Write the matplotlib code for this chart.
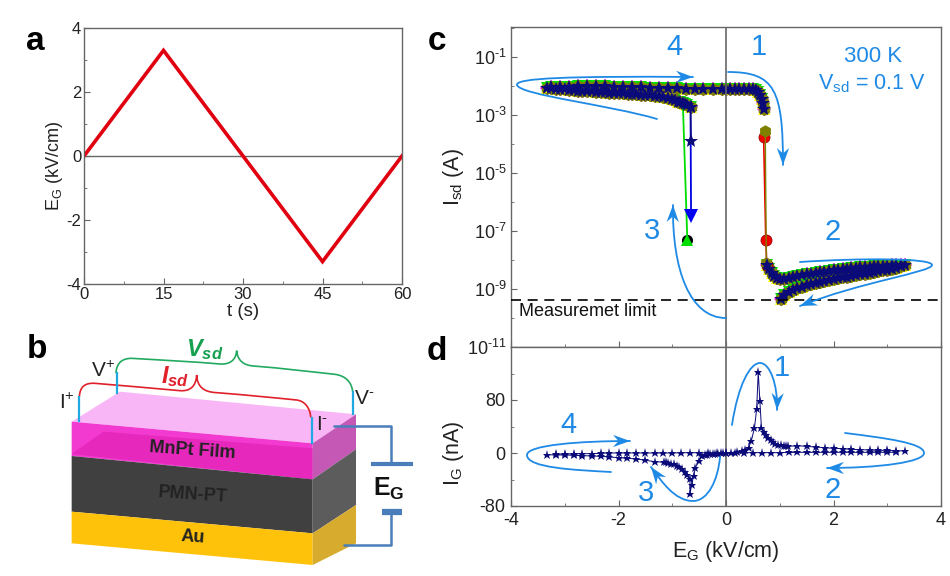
"""Four-panel figure: E_G waveform, device sketch, I_sd and I_G loops."""

import matplotlib
matplotlib.use("Agg")
import matplotlib.pyplot as plt
from matplotlib.patches import PathPatch, Polygon
from matplotlib.path import Path
import numpy as np

plt.rcParams["font.family"] = ["Liberation Sans", "DejaVu Sans"]
plt.rcParams["mathtext.fontset"] = "custom"
plt.rcParams["mathtext.rm"] = "Liberation Sans"
plt.rcParams["mathtext.it"] = "Liberation Sans:italic"
plt.rcParams["mathtext.bf"] = "Liberation Sans:bold"
plt.rcParams["mathtext.bfit"] = "Liberation Sans:italic:bold"
plt.rcParams["mathtext.default"] = "regular"
plt.rcParams["axes.unicode_minus"] = False

W, H = 950, 576
BLUE = "#1e8ae6"
FRAME = "#666666"
NAVY = "#0a0a78"
INK = "#222222"

# panel a
t_s = [0, 15, 30, 45, 60]
eg_wave = [0, 3.3, 0, -3.3, 0]

# panel c, log10(I_sd) by sweep branch
c_up_x = [0, 0.08, 0.17, 0.25, 0.33, 0.42, 0.5, 0.55, 0.6, 0.64, 0.67, 0.69, 0.7]
c_up_y = [-2.09, -2.09, -2.09, -2.09, -2.09, -2.09, -2.1, -2.14, -2.2, -2.3, -2.45, -2.6, -2.78]
c_off_x = [0.76, 0.8, 0.85, 0.9, 0.95, 1.0, 1.08, 1.17, 1.25, 1.33, 1.42, 1.5, 1.58, 1.67, 1.75, 1.83,
           1.92, 2.0, 2.08, 2.17, 2.25, 2.33, 2.42, 2.5, 2.58, 2.67, 2.75, 2.83, 2.92, 3.0, 3.08, 3.17, 3.25, 3.33]
c_off_y = [-8.18, -8.3, -8.45, -8.55, -8.62, -8.65, -8.66, -8.62, -8.58, -8.55, -8.52, -8.5, -8.47, -8.45,
           -8.42, -8.4, -8.37, -8.35, -8.33, -8.32, -8.3, -8.28, -8.27, -8.25, -8.24, -8.23, -8.22, -8.21,
           -8.2, -8.2, -8.19, -8.19, -8.18, -8.18]
c_back_x = [3.25, 3.17, 3.08, 3.0, 2.92, 2.83, 2.75, 2.67, 2.58, 2.5, 2.42, 2.33, 2.25, 2.17, 2.08, 2.0,
            1.92, 1.83, 1.75, 1.67, 1.58, 1.5, 1.42, 1.33, 1.25, 1.17, 1.08, 1.02]
c_back_y = [-8.22, -8.27, -8.3, -8.33, -8.36, -8.39, -8.42, -8.45, -8.48, -8.5, -8.53, -8.56, -8.58, -8.6,
            -8.62, -8.64, -8.68, -8.72, -8.76, -8.8, -8.84, -8.87, -8.92, -8.97, -9.03, -9.1, -9.2, -9.33]
c_neg_x = [-0.66, -0.72, -0.76, -0.8, -0.85, -0.9, -0.95, -1.0, -1.08, -1.17, -1.25, -1.33, -1.42, -1.5,
           -1.58, -1.67, -1.75, -1.83, -1.92, -2.0, -2.08, -2.17, -2.25, -2.33, -2.42, -2.5, -2.58, -2.67,
           -2.75, -2.83, -2.92, -3.0, -3.08, -3.17, -3.25, -3.33]
c_neg_y = [-2.72, -2.66, -2.62, -2.6, -2.57, -2.54, -2.5, -2.46, -2.42, -2.38, -2.36, -2.34, -2.32, -2.31,
           -2.3, -2.29, -2.28, -2.27, -2.26, -2.25, -2.24, -2.23, -2.22, -2.21, -2.2, -2.19, -2.18, -2.17,
           -2.16, -2.15, -2.13, -2.12, -2.11, -2.09, -2.08, -2.07]
c_ret_x = [-3.25, -3.08, -2.92, -2.75, -2.58, -2.42, -2.25, -2.08, -1.92, -1.75, -1.58, -1.42, -1.25,
           -1.08, -0.92, -0.75, -0.58, -0.42, -0.25, -0.08]
c_ret_y = [-2.05, -2.04, -2.03, -2.02, -2.02, -2.02, -2.02, -2.03, -2.03, -2.04, -2.05, -2.06, -2.07,
           -2.08, -2.08, -2.09, -2.09, -2.09, -2.09, -2.09]

# end points of the separate runs at the two switching steps
red_x = [0.7, 0.74, 0.76]
red_y = [-3.76, -7.3, -8.18]
olive_x = [0.73, 0.75]
olive_y = [-3.56, -8.1]
star_x = [-0.66, -0.65]
star_y = [-2.72, -3.9]
blue_x = [-0.66, -0.65]
blue_y = [-2.72, -6.5]
green_x = [-0.8, -0.72]
green_y = [-2.75, -7.3]
limit_log = -9.39

# panel d
d_up_x = [0, 0.1, 0.2, 0.3, 0.35, 0.42, 0.47, 0.53, 0.57, 0.6, 0.63, 0.66, 0.7, 0.74, 0.78, 0.83, 0.87,
          0.92, 0.97, 1.02, 1.07, 1.12, 1.15, 1.33, 1.5, 1.67, 1.84, 2.0, 2.17, 2.33, 2.5, 2.67, 2.83, 3.0,
          3.17, 3.33]
d_up_y = [0.5, 0.6, 1, 3, 5, 8, 18, 38, 66, 122, 79, 37, 32, 27, 23, 19, 16, 14, 12, 12, 11, 11, 10, 11,
          10, 9, 8, 7, 6.5, 5.5, 5, 4.5, 4, 4, 3.5, 3]
d_back_x = [3.17, 3.0, 2.83, 2.67, 2.5, 2.33, 2.17, 2.0, 1.84, 1.67, 1.5, 1.33, 1.17, 1.0, 0.84, 0.67,
            0.5, 0.33, 0.17]
d_back_y = [1, 1, 1, 1, 1, 1, 1, 1, 1, 1, 1, 1, 0.8, 0.5, 0.5, 0.5, 0.5, 0.5, 0.5]
d_neg_x = [-0.05, -0.1, -0.15, -0.2, -0.25, -0.3, -0.35, -0.4, -0.45, -0.5, -0.57, -0.6, -0.64, -0.67,
           -0.67, -0.72, -0.77, -0.82, -0.87, -0.92, -0.97, -1.02, -1.07, -1.12, -1.15, -1.33, -1.5, -1.67,
           -1.84, -2.0, -2.17, -2.33, -2.5, -2.67, -2.83, -3.0, -3.17, -3.33]
d_neg_y = [0, -0.5, -1, -1, -1.5, -2, -2.5, -3, -4, -12, -22, -34, -48, -62, -39, -33, -28, -24, -21, -19,
           -17, -16, -15, -14, -14, -13, -11, -9, -8, -7, -6, -5, -4.5, -4, -3.5, -3, -3, -2.5]
d_ret_x = [-3.17, -3.0, -2.83, -2.67, -2.5, -2.33, -2.17, -2.0, -1.84, -1.67, -1.5, -1.33, -1.17, -1.0,
           -0.84, -0.67, -0.5, -0.33, -0.17, 0]
d_ret_y = [-1.5, -1.5, -1, -1, -1, -0.5, 0, 0, 0, 0, 0, 0, 0, 0, 0.3, 0.5, 0.3, 0.3, 0.3, 0.5]

fig = plt.figure(figsize=(W / 100, H / 100), dpi=100)


def px_axes(left, top, right, bottom):
    ax = fig.add_axes([left / W, 1 - bottom / H, (right - left) / W, (bottom - top) / H])
    for sp in ax.spines.values():
        sp.set_color(FRAME)
        sp.set_linewidth(1.0)
    return ax


# ---- panel a
ax_a = px_axes(84, 28, 402, 284)
ax_a.axhline(0, color=FRAME, lw=1.0)
ax_a.plot(t_s, eg_wave, color="#e0000f", lw=2.6, solid_joinstyle="miter")
ax_a.set_xlim(0, 60)
ax_a.set_ylim(-4, 4)
ax_a.set_xticks([0, 15, 30, 45, 60])
ax_a.set_xticks([7.5, 22.5, 37.5, 52.5], minor=True)
ax_a.set_yticks([-4, -2, 0, 2, 4])
ax_a.set_yticks([-3, -1, 1, 3], minor=True)
ax_a.tick_params(which="major", direction="in", length=4, labelsize=12, pad=2, color=FRAME, labelcolor=INK)
ax_a.tick_params(which="minor", direction="in", length=2, color=FRAME)
ax_a.set_xlabel("t (s)", fontsize=13.5, color=INK)
ax_a.xaxis.set_label_coords(0.5, -0.075)
ax_a.set_ylabel("E$_{G}$ (kV/cm)", fontsize=13, color=INK)
ax_a.yaxis.set_label_coords(-0.06, 0.46)

# ---- panel c
ax_c = px_axes(511, 27, 941, 347)
ax_c.axvline(0, color=FRAME, lw=1.2, zorder=5)
ax_c.axhline(10.0 ** limit_log, color="black", lw=1.2, dashes=(6, 4), zorder=6)
branches = [(c_up_x, c_up_y), (c_off_x, c_off_y), (c_back_x, c_back_y), (c_neg_x, c_neg_y), (c_ret_x, c_ret_y)]
under_styles = [("D", "#ff00ff", 7), ("^", "#ffff00", 9), ("v", "#00e000", 8.5), ("h", "#808000", 9.5)]
for bx, by in branches:
    for mk, col, ms in under_styles:
        ax_c.plot(bx, 10.0 ** np.array(by), ls="none", marker=mk, color=col, ms=ms, mew=0, zorder=2)
ax_c.plot(red_x, 10.0 ** np.array(red_y), color="#f00000", lw=1.2, marker="o", ms=8, mec="#900000", mew=0.5, zorder=3)
ax_c.plot(olive_x, 10.0 ** np.array(olive_y), color="#808000", lw=1.0, marker="h", ms=9, mew=0, zorder=3)
ax_c.plot(green_x[1:], 10.0 ** np.array(green_y[1:]), ls="none", marker="o", color="black", ms=8, mew=0, zorder=3)
ax_c.plot(green_x, 10.0 ** np.array(green_y), color="#00dd00", lw=1.3, zorder=3)
ax_c.plot(green_x[1:], 10.0 ** np.array(green_y[1:]), ls="none", marker="^", color="#00dd00", ms=9, mew=0, zorder=4)
ax_c.plot(blue_x, 10.0 ** np.array(blue_y), color="#0000e0", lw=1.3, zorder=3)
ax_c.plot(blue_x[1:], 10.0 ** np.array(blue_y[1:]), ls="none", marker="v", color="#0000f0", ms=10, mew=0, zorder=4)
ax_c.plot(star_x, 10.0 ** np.array(star_y), color=NAVY, lw=1.0, marker="*", ms=10.5, mew=0, zorder=4)
for bx, by in branches:
    ax_c.plot(bx, 10.0 ** np.array(by), color=NAVY, lw=1.0, marker="*", ms=10.5, mew=0, zorder=4)
ax_c.set_yscale("log")
ax_c.set_xlim(-4, 4)
ax_c.set_ylim(1e-11, 10 ** 0.03)
ax_c.set_xticks([-4, -2, 0, 2, 4])
ax_c.set_xticks([-3, -1, 1, 3], minor=True)
ax_c.set_yticks([1e-11, 1e-9, 1e-7, 1e-5, 1e-3, 1e-1])
ax_c.set_yticklabels(["10$^{\\text{-}11}$", "10$^{\\text{-}9}$", "10$^{\\text{-}7}$",
                      "10$^{\\text{-}5}$", "10$^{\\text{-}3}$", "10$^{\\text{-}1}$"])
ax_c.set_yticks([1e-10, 1e-8, 1e-6, 1e-4, 1e-2, 1], minor=True)
ax_c.set_yticklabels([], minor=True)
ax_c.tick_params(axis="x", which="both", labelbottom=False)
ax_c.tick_params(which="major", direction="in", length=4, labelsize=13, pad=3, color=FRAME, labelcolor=INK)
ax_c.tick_params(which="minor", direction="in", length=2, color=FRAME)
ax_c.set_ylabel("I$_{sd}$ (A)", fontsize=15.5, color=INK)
ax_c.yaxis.set_label_coords(-0.105, 0.53)

# ---- panel d
ax_d = px_axes(511, 347, 941, 506)
ax_d.axvline(0, color=FRAME, lw=1.2)
for bx, by in [(d_up_x, d_up_y), (d_back_x, d_back_y), (d_neg_x, d_neg_y), (d_ret_x, d_ret_y)]:
    ax_d.plot(bx, by, color=NAVY, lw=0.7, ls="-", marker="*", ms=6.5, mew=0)
ax_d.set_xlim(-4, 4)
ax_d.set_ylim(-80, 160)
ax_d.set_xticks([-4, -2, 0, 2, 4])
ax_d.set_xticks([-3, -1, 1, 3], minor=True)
ax_d.set_yticks([-80, 0, 80])
ax_d.set_yticks([-40, 40, 120], minor=True)
ax_d.tick_params(which="major", direction="in", length=4, labelsize=13, pad=4, color=FRAME, labelcolor=INK)
ax_d.tick_params(which="minor", direction="in", length=2, color=FRAME)
ax_d.set_xlabel("E$_{G}$ (kV/cm)", fontsize=15.5, color=INK)
ax_d.xaxis.set_label_coords(0.5, -0.21)
ax_d.set_ylabel("I$_{G}$ (nA)", fontsize=15.5, color=INK)
ax_d.yaxis.set_label_coords(-0.105, 0.33)

# ---- overlay in pixel coordinates: sketch, arrows, panel letters
ov = fig.add_axes([0, 0, 1, 1], zorder=10)
ov.set_xlim(0, W)
ov.set_ylim(H, 0)
ov.axis("off")
ov.patch.set_alpha(0)


def curve(ctrl, color=BLUE, lw=1.3):
    codes = [Path.MOVETO] + [Path.CURVE4] * (len(ctrl) - 1)
    ov.add_patch(PathPatch(Path(ctrl, codes), fc="none", ec=color, lw=lw, capstyle="round"))


def flow_arrow(ctrl):
    curve(ctrl)
    tip = np.array(ctrl[-1], dtype=float)
    d = tip - np.array(ctrl[-2], dtype=float)
    d = d / np.hypot(*d)
    n = np.array([-d[1], d[0]])
    size = 17
    pts = [tip, tip - size * d + 0.36 * size * n, tip - 0.68 * size * d, tip - size * d - 0.36 * size * n]
    ov.add_patch(Polygon(pts, closed=True, fc=BLUE, ec="none"))


flow_arrow([(657, 119), (610, 105), (520, 95), (517, 85), (515, 78), (570, 76), (693, 77)])
flow_arrow([(728, 72), (775, 72), (783, 90), (783, 165)])
flow_arrow([(800, 262), (860, 258), (932, 258), (932, 265), (932, 272), (860, 282), (800, 306)])
flow_arrow([(726, 318), (690, 318), (672, 270), (673, 205)])
flow_arrow([(732, 425), (738, 385), (750, 363), (760, 363), (770, 363), (778, 385), (777, 410)])
flow_arrow([(845, 433), (885, 438), (924, 443), (924, 453), (924, 462), (880, 468), (827, 468)])
flow_arrow([(720, 457), (718, 480), (708, 501), (693, 501), (675, 501), (662, 482), (651, 467)])
flow_arrow([(611, 472), (575, 470), (527, 468), (527, 455), (527, 445), (580, 441), (630, 441)])

for txt, x, y in [("4", 674, 47), ("1", 759, 47), ("3", 652, 231), ("2", 833, 232),
                  ("1", 782, 368), ("4", 568, 425), ("2", 833, 490), ("3", 646, 493)]:
    ov.text(x, y, txt, color=BLUE, fontsize=21, ha="center", va="center")
ov.text(873, 56, "300 K", color=BLUE, fontsize=16, ha="center", va="center")
ov.text(872, 84, "V$_{sd}$ = 0.1 V", color=BLUE, fontsize=15.5, ha="center", va="center")
ov.text(519, 311, "Measuremet limit", color="#111111", fontsize=13, ha="left", va="center")

for txt, x, y in [("a", 35, 42), ("b", 37, 349), ("c", 437, 42), ("d", 437, 352)]:
    ov.text(x, y, txt, color="black", fontsize=24, fontweight="bold", ha="center", va="center")


def z(pts):
    return [(20 + x / 3, 330 + y / 3) for x, y in pts]


def zt(x, y):
    return 20 + x / 3, 330 + y / 3


faces = [
    ([(155, 275), (300, 185), (1008, 253), (878, 340)], "#f9b6f6"),
    ([(155, 275), (878, 340), (878, 448), (155, 378)], "#f23ad0"),
    ([(155, 372), (250, 305), (878, 355), (878, 448)], "#e628bd"),
    ([(878, 340), (1008, 253), (1008, 358), (878, 448)], "#c557b5"),
    ([(155, 378), (878, 448), (878, 610), (155, 545)], "#404040"),
    ([(878, 448), (1008, 358), (1008, 525), (878, 610)], "#5c5c5c"),
    ([(155, 545), (878, 610), (878, 705), (155, 640)], "#ffc20a"),
    ([(878, 610), (1008, 525), (1008, 640), (878, 705)], "#d6ab2e"),
]
for pts, col in faces:
    ov.add_patch(Polygon(z(pts), closed=True, fc=col, ec="none"))

WIRE = "#4a7ebb"
for pts, lw in [([(940, 288), (1113, 288), (1113, 400)], 1.8),
                ([(1052, 402), (1178, 402)], 3.0),
                ([(1085, 547), (1145, 547)], 4.5),
                ([(1113, 547), (1113, 645), (970, 645)], 1.8)]:
    xs, ys = zip(*z(pts))
    ov.plot(xs, ys, color=WIRE, lw=lw, solid_capstyle="butt")

for pts in [[(178, 200), (178, 272)], [(292, 130), (292, 190)], [(875, 265), (875, 340)], [(998, 185), (998, 253)]]:
    xs, ys = zip(*z(pts))
    ov.plot(xs, ys, color="#1fa9e0", lw=1.6)

curve(z([(178, 200), (180, 170), (195, 158), (225, 160), (300, 166), (400, 175), (480, 182),
         (510, 184), (528, 170), (530, 135), (532, 170), (550, 186), (590, 188),
         (680, 195), (760, 203), (830, 210), (855, 213), (870, 235), (872, 260)]), color="#e0202a", lw=1.2)
curve(z([(288, 128), (290, 100), (305, 85), (335, 85), (420, 90), (520, 95), (600, 102),
         (630, 104), (648, 90), (650, 62), (652, 90), (670, 106), (700, 108),
         (790, 115), (870, 125), (945, 133), (975, 137), (995, 155), (998, 185)]), color="#22aa60", lw=1.2)

ov.text(*zt(518, 362), "MnPt Film", color=INK, fontsize=13, fontweight="bold", ha="center", va="center", rotation=-4)
ov.text(*zt(518, 495), "PMN-PT", color=INK, fontsize=13, fontweight="bold", ha="center", va="center", rotation=-4)
ov.text(*zt(518, 622), "Au", color=INK, fontsize=13, fontweight="bold", ha="center", va="center", rotation=-4)
ov.text(*zt(1105, 478), "E$_{\\mathbf{G}}$", color="#111111", fontsize=18, fontweight="bold", ha="center", va="center")
ov.text(*zt(555, 58), "$\\mathbfit{V_{sd}}$", color="#16a050", fontsize=17, ha="center", va="center")
ov.text(*zt(465, 140), "$\\mathbfit{I_{sd}}$", color="#e0202a", fontsize=17, ha="center", va="center")
ov.text(*zt(250, 122), "V$^{+}$", color=INK, fontsize=15, ha="center", va="center")
ov.text(*zt(140, 218), "I$^{+}$", color=INK, fontsize=15, ha="center", va="center")
ov.text(*zt(1032, 207), "V$^{\\text{-}}$", color=INK, fontsize=15, ha="center", va="center")
ov.text(*zt(905, 285), "I$^{\\text{-}}$", color=INK, fontsize=15, ha="center", va="center")

fig.savefig("out.png", dpi=100)
